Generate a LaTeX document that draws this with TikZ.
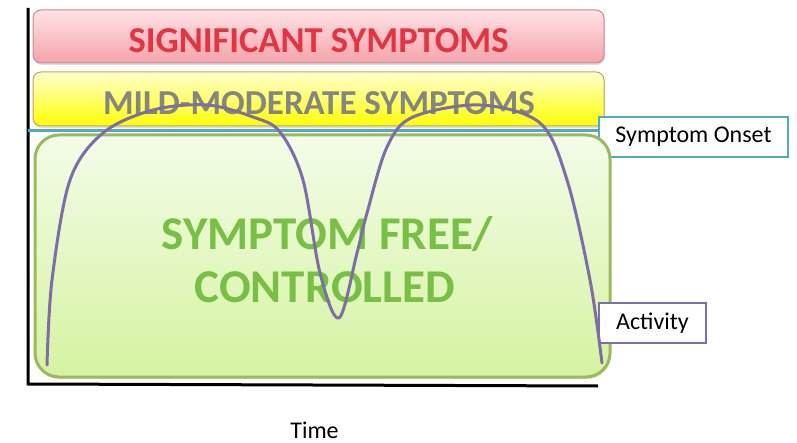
\documentclass[tikz,border=0pt]{standalone}
\usepackage{fontspec}
\setmainfont{Carlito}
\usetikzlibrary{shadows}
\definecolor{sigtxt}{HTML}{E8323F}
\definecolor{sigtop}{HTML}{FDE3E5}
\definecolor{sigbot}{HTML}{F4A3AA}
\definecolor{sigedge}{HTML}{C98A90}
\definecolor{mildtop}{HTML}{FFFFD0}
\definecolor{mildbot}{HTML}{FFFF00}
\definecolor{mildedge}{HTML}{C8A060}
\definecolor{mildtxt}{HTML}{858585}
\definecolor{freetop}{HTML}{F3FCE8}
\definecolor{freebot}{HTML}{D5F3A0}
\definecolor{freeedge}{HTML}{9BBB59}
\definecolor{freetxt}{HTML}{78C043}
\definecolor{onsetc}{HTML}{4BACC6}
\definecolor{actc}{HTML}{7D6DA8}
\begin{document}
\begin{tikzpicture}[x=1pt,y=-1pt,
  band/.style={rectangle, rounded corners=8pt, inner sep=0pt, outer sep=0pt, line width=1pt,
    drop shadow={shadow xshift=1pt, shadow yshift=-2pt, opacity=0.25}},
  bigtxt/.style={font=\fontsize{#1}{#1}\selectfont\bfseries, inner sep=0pt, anchor=base},
  labelbox/.style={rectangle, draw=#1, line width=1.5pt, fill=white, inner sep=0pt,
    font=\fontsize{24}{26}\selectfont, text=black},
  axis/.style={line width=3pt, black},
  activityline/.style={line width=3pt, actc, line cap=round, line join=round}
]
\useasboundingbox (0,0) rectangle (797,443);
% axes
\coordinate (ytop) at (28,8);
\coordinate (origin) at (28,384);
\coordinate (xend) at (598,386);
\draw[axis] (ytop) -- (origin) -- (xend);
% bands
\node[band, draw=sigedge, top color=sigtop, bottom color=sigbot,
  minimum width=571pt, minimum height=53pt] (sig) at (318.5,36.5) {};
\node[band, draw=mildedge, top color=mildtop, bottom color=mildbot,
  minimum width=571pt, minimum height=54pt] (mild) at (318.5,99) {};
% symptom onset
\node[labelbox=onsetc, minimum width=189pt, minimum height=40pt] (onset) at (693.5,137) {Symptom Onset};
\coordinate (onsetstart) at (28,130.5);
\draw[onsetc, line width=2.5pt] (onsetstart) -- (onsetstart -| onset.west);
% green box
\node[band, rounded corners=24pt, line width=3pt, draw=freeedge, top color=freetop, bottom color=freebot,
  minimum width=575pt, minimum height=242pt] (free) at (322.5,256) {};
% texts
\node[bigtxt=36.5, text=sigtxt] (sigt) at (318.5,53) {SIGNIFICANT SYMPTOMS};
\node[bigtxt=35, text=mildtxt] (mildt) at (319,115) {MILD-MODERATE SYMPTOMS};
\node[bigtxt=47, text=freetxt] (freet1) at (327.5,250) {SYMPTOM FREE/};
\node[bigtxt=47, text=freetxt] (freet2) at (325,303) {CONTROLLED};
% activity
\node[labelbox=actc, minimum width=107pt, minimum height=40pt] (act) at (652.5,323) {Activity};
\draw[activityline] plot[smooth, tension=0.55] coordinates {
 (47,365) (52,280) (70,180) (103,133) (153,110) (207,105) (253,117) (280,132) (303,180) (320,273) (339,318)
 (357,253) (367,213) (387,147) (413,117) (480,105) (540,123) (567,180) (590,280) (602,363)};
% time
\node[anchor=base, font=\fontsize{24}{26}\selectfont, inner sep=0pt] (time) at (314.5,438) {Time};
\end{tikzpicture}
\end{document}
